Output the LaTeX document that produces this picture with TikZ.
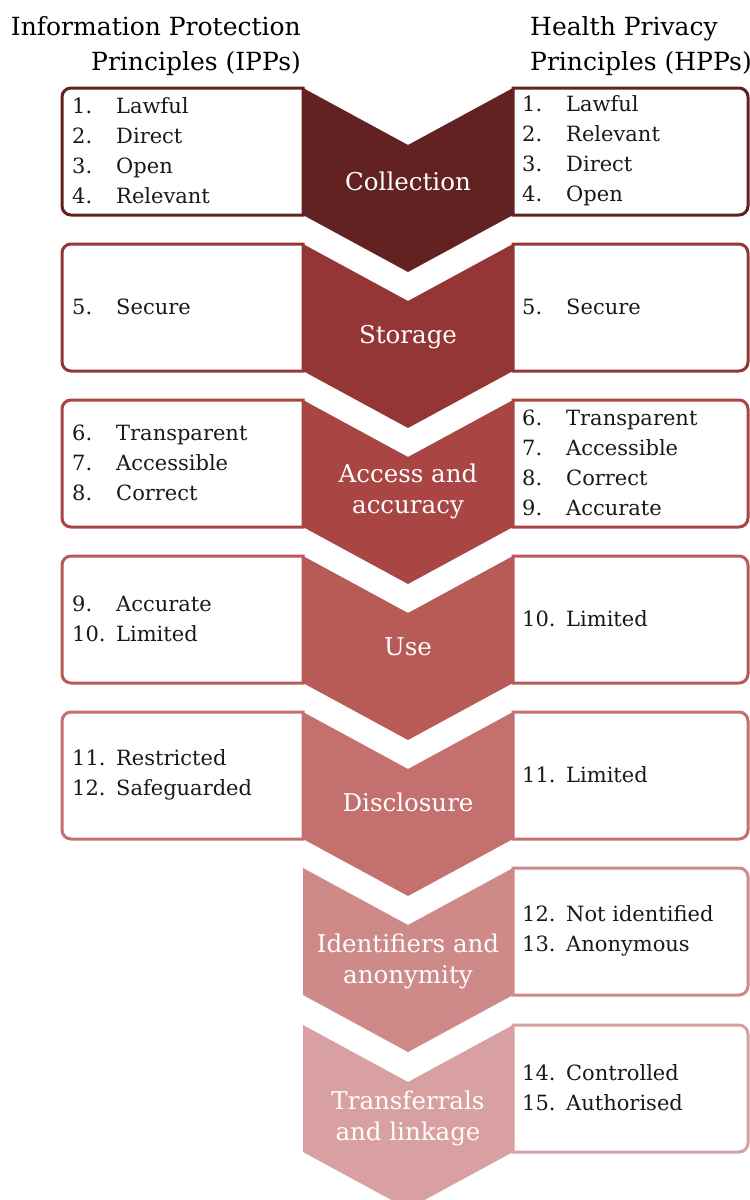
\documentclass[tikz,border=0pt]{standalone}
\usepackage{fontspec}
\setmainfont{DejaVu Serif}
\usepackage{tikz}

\definecolor{collectc}{HTML}{622222}
\definecolor{storec}{HTML}{943635}
\definecolor{accessc}{HTML}{A94644}
\definecolor{usec}{HTML}{B85A56}
\definecolor{disclosec}{HTML}{C4706E}
\definecolor{identc}{HTML}{CD8A88}
\definecolor{transferc}{HTML}{D8A0A0}

\tikzset{
  headtext/.style={inner sep=0pt, font=\fontsize{25}{35}\selectfont},
  chevtext/.style={inner sep=0pt, align=center, text=white,
    font=\fontsize{24.5}{31}\selectfont},
  itemtext/.style={inner sep=0pt, anchor=west, align=left, text=black!90,
    font=\fontsize{21}{30}\selectfont},
  boxline/.style={line width=3pt, fill=white},
}
\newcommand{\num}[1]{\makebox[44pt][l]{#1}}

\begin{document}
\begin{tikzpicture}[x=1pt,y=-1pt]
    \useasboundingbox[fill=white] (0,0) rectangle (750,1200);
    \node[headtext, align=right, anchor=north east] (ipp) at (301,16)
      {Information Protection\\Principles (IPPs)};
    \node[headtext, align=left, anchor=north west] (hpp) at (530,16)
      {Health Privacy\\Principles (HPPs)};
    % chevrons
    \fill[collectc] (303,88) -- (408,145) -- (513,88) -- (513,215)
      -- (408,272) -- (303,215) -- cycle;
    \fill[storec] (303,244) -- (408,301) -- (513,244) -- (513,371)
      -- (408,428) -- (303,371) -- cycle;
    \fill[accessc] (303,400) -- (408,457) -- (513,400) -- (513,527)
      -- (408,584) -- (303,527) -- cycle;
    \fill[usec] (303,556) -- (408,613) -- (513,556) -- (513,683)
      -- (408,740) -- (303,683) -- cycle;
    \fill[disclosec] (303,712) -- (408,769) -- (513,712) -- (513,839)
      -- (408,896) -- (303,839) -- cycle;
    \fill[identc] (303,868) -- (408,925) -- (513,868) -- (513,995)
      -- (408,1052) -- (303,995) -- cycle;
    \fill[transferc] (303,1025) -- (408,1082) -- (513,1025) -- (513,1152)
      -- (408,1209) -- (303,1152) -- cycle;
    \node[chevtext] (collection) at (408,181) {Collection};
    \node[chevtext] (storage) at (408,337) {Storage};
    \node[chevtext] (access) at (408,491) {Access and\\accuracy};
    \node[chevtext] (use) at (408,647) {Use};
    \node[chevtext] (disclosure) at (408,802) {Disclosure};
    \node[chevtext] (identifiers) at (408,961) {Identifiers and\\anonymity};
    \node[chevtext] (transferrals) at (408,1118) {Transferrals\\and linkage};
    % IPP boxes
    \draw[boxline, draw=collectc] (303,88) [rounded corners=9pt] -- (62,88)
      -- (62,215) [sharp corners] -- (303,215) -- cycle;
    \draw[boxline, draw=storec] (303,244) [rounded corners=9pt] -- (62,244)
      -- (62,371) [sharp corners] -- (303,371) -- cycle;
    \draw[boxline, draw=accessc] (303,400) [rounded corners=9pt] -- (62,400)
      -- (62,527) [sharp corners] -- (303,527) -- cycle;
    \draw[boxline, draw=usec] (303,556) [rounded corners=9pt] -- (62,556)
      -- (62,683) [sharp corners] -- (303,683) -- cycle;
    \draw[boxline, draw=disclosec] (303,712) [rounded corners=9pt] -- (62,712)
      -- (62,839) [sharp corners] -- (303,839) -- cycle;
    \node[itemtext] (ipp1) at (72,151)
      {\num{1.}Lawful\\\num{2.}Direct\\\num{3.}Open\\\num{4.}Relevant};
    \node[itemtext] (ipp2) at (72,307) {\num{5.}Secure};
    \node[itemtext] (ipp3) at (72,463)
      {\num{6.}Transparent\\\num{7.}Accessible\\\num{8.}Correct};
    \node[itemtext] (ipp4) at (72,619) {\num{9.}Accurate\\\num{10.}Limited};
    \node[itemtext] (ipp5) at (72,775) {\num{11.}Restricted\\\num{12.}Safeguarded};
    % HPP boxes
    \draw[boxline, draw=collectc] (513,215) [rounded corners=9pt] -- (748,215)
      -- (748,88) [sharp corners] -- (513,88) -- cycle;
    \draw[boxline, draw=storec] (513,371) [rounded corners=9pt] -- (748,371)
      -- (748,244) [sharp corners] -- (513,244) -- cycle;
    \draw[boxline, draw=accessc] (513,527) [rounded corners=9pt] -- (748,527)
      -- (748,400) [sharp corners] -- (513,400) -- cycle;
    \draw[boxline, draw=usec] (513,683) [rounded corners=9pt] -- (748,683)
      -- (748,556) [sharp corners] -- (513,556) -- cycle;
    \draw[boxline, draw=disclosec] (513,839) [rounded corners=9pt] -- (748,839)
      -- (748,712) [sharp corners] -- (513,712) -- cycle;
    \draw[boxline, draw=identc] (513,995) [rounded corners=9pt] -- (748,995)
      -- (748,868) [sharp corners] -- (513,868) -- cycle;
    \draw[boxline, draw=transferc] (513,1152) [rounded corners=9pt] -- (748,1152)
      -- (748,1025) [sharp corners] -- (513,1025) -- cycle;
    \node[itemtext] (hpp1) at (522,151)
      {\num{1.}Lawful\\\num{2.}Relevant\\\num{3.}Direct\\\num{4.}Open};
    \node[itemtext] (hpp2) at (522,307) {\num{5.}Secure};
    \node[itemtext] (hpp3) at (522,463)
      {\num{6.}Transparent\\\num{7.}Accessible\\\num{8.}Correct\\\num{9.}Accurate};
    \node[itemtext] (hpp4) at (522,619) {\num{10.}Limited};
    \node[itemtext] (hpp5) at (522,775) {\num{11.}Limited};
    \node[itemtext] (hpp6) at (522,931) {\num{12.}Not identified\\\num{13.}Anonymous};
    \node[itemtext] (hpp7) at (522,1088) {\num{14.}Controlled\\\num{15.}Authorised};
\end{tikzpicture}
\end{document}
